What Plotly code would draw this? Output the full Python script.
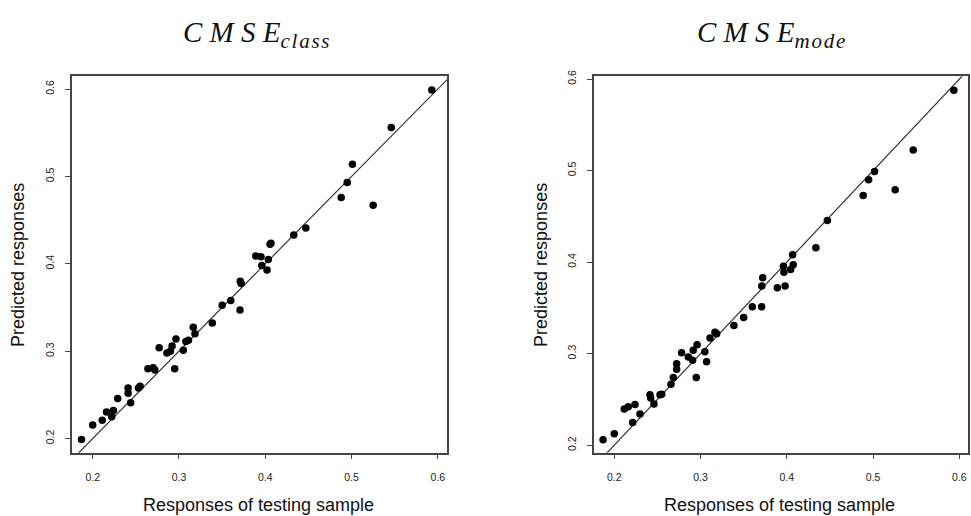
import plotly.graph_objects as go

# ---- data ----
class_x = [0.187, 0.200, 0.211, 0.216, 0.222, 0.224, 0.229, 0.241, 0.241, 0.244, 0.253, 0.255,
           0.264, 0.270, 0.272, 0.277, 0.286, 0.290, 0.292, 0.295, 0.2965, 0.305, 0.308, 0.311,
           0.3165, 0.3185, 0.3386, 0.350, 0.360, 0.371, 0.372, 0.3707, 0.389, 0.395, 0.4035,
           0.396, 0.402, 0.4066, 0.4055, 0.433, 0.447, 0.488, 0.495, 0.501, 0.525, 0.546, 0.593]
class_y = [0.199, 0.2155, 0.221, 0.2305, 0.225, 0.232, 0.246, 0.258, 0.252, 0.241, 0.258, 0.260,
           0.280, 0.281, 0.2785, 0.304, 0.298, 0.300, 0.306, 0.280, 0.314, 0.301, 0.311, 0.3125,
           0.3275, 0.320, 0.3323, 0.3527, 0.358, 0.380, 0.3776, 0.347, 0.409, 0.408, 0.405,
           0.398, 0.393, 0.4236, 0.4225, 0.433, 0.441, 0.476, 0.493, 0.514, 0.467, 0.556, 0.599]

mode_x = [0.187, 0.200, 0.2116, 0.2162, 0.224, 0.2213, 0.2298, 0.2414, 0.2422, 0.246, 0.253, 0.255,
          0.2657, 0.2684, 0.2723, 0.2723, 0.278, 0.2858, 0.2908, 0.2915, 0.296, 0.295, 0.305, 0.307,
          0.311, 0.3167, 0.3187, 0.3387, 0.350, 0.360, 0.3708, 0.372, 0.371, 0.389, 0.398, 0.396,
          0.3966, 0.4044, 0.4074, 0.4067, 0.447, 0.4337, 0.4885, 0.4948, 0.5017, 0.5256, 0.5465, 0.5936]
mode_y = [0.206, 0.2125, 0.2395, 0.242, 0.2443, 0.2248, 0.234, 0.255, 0.2514, 0.245, 0.255, 0.2557,
          0.2665, 0.2738, 0.283, 0.289, 0.301, 0.2964, 0.2929, 0.3037, 0.3097, 0.2738, 0.302, 0.291,
          0.317, 0.3235, 0.3216, 0.3307, 0.3396, 0.3512, 0.3512, 0.383, 0.374, 0.372, 0.374, 0.3955,
          0.389, 0.392, 0.397, 0.408, 0.4455, 0.4156, 0.4728, 0.490, 0.4991, 0.479, 0.5225, 0.5877]

ref_line = [0.0, 1.0]
tick_vals = [0.2, 0.3, 0.4, 0.5, 0.6]
tick_text = ["0.2", "0.3", "0.4", "0.5", "0.6"]
SP = "\u2005"
HS = "\u200a"
def math_title(main, sub):
    return ("<i>" + SP.join(main) + "</i><sub><span style='font-size:21px'><i>"
            + HS.join(sub) + "</i></span></sub>")
titles = [math_title("CMSE", "class"), math_title("CMSE", "mode")]
x_title = "Responses of testing sample"
y_title = "Predicted responses"

fig = go.Figure()

for i, (xs, ys) in enumerate([(class_x, class_y), (mode_x, mode_y)]):
    ax = "x" if i == 0 else "x2"
    ay = "y" if i == 0 else "y2"
    fig.add_trace(go.Scatter(x=ref_line, y=ref_line, mode="lines",
                             line=dict(color="#333333", width=1.2),
                             xaxis=ax, yaxis=ay, showlegend=False, hoverinfo="skip"))
    fig.add_trace(go.Scatter(x=xs, y=ys, mode="markers",
                             marker=dict(color="black", size=7.5),
                             xaxis=ax, yaxis=ay, showlegend=False))

axis_common = dict(showline=True, linecolor="#444444", linewidth=1.5, mirror=True,
                   showgrid=False, zeroline=False, ticks="outside", ticklen=5,
                   tickcolor="#444444", tickwidth=1.2,
                   tickvals=tick_vals, ticktext=tick_text,
                   tickfont=dict(family="Liberation Sans, Arial, sans-serif", size=10.5, color="#222222"))

W, H = 971, 516
def fx(px):
    return px / W
def fy(py):
    return 1 - py / H

fig.update_layout(
    width=W, height=H,
    margin=dict(l=0, r=0, t=0, b=0),
    paper_bgcolor="white", plot_bgcolor="white",
    xaxis=dict(domain=[fx(72), fx(447)], range=[0.1760, 0.6106], anchor="y",
               ticklabelstandoff=9, **axis_common),
    yaxis=dict(domain=[fy(452), fy(71)], range=[0.1838, 0.6147], anchor="x", tickangle=-90,
               ticklabelstandoff=7, **axis_common),
    xaxis2=dict(domain=[fx(594), fx(968)], range=[0.1765, 0.6100], anchor="y2",
                ticklabelstandoff=9, **axis_common),
    yaxis2=dict(domain=[fy(452), fy(71)], range=[0.1917, 0.6032], anchor="x2", tickangle=-90,
                ticklabelstandoff=7, **axis_common),
)

ann = []
label_font = dict(family="Liberation Sans, Arial, sans-serif", size=18, color="#111111")
title_font = dict(family="Liberation Serif, DejaVu Serif, serif", size=29, color="#111111")
for cx, t in [(256, titles[0]), (771, titles[1])]:
    ann.append(dict(text=t, x=fx(cx), y=fy(29), xref="paper", yref="paper",
                    showarrow=False, font=title_font, xanchor="center", yanchor="middle"))
for cx in [258, 779]:
    ann.append(dict(text=x_title, x=fx(cx), y=fy(505), xref="paper", yref="paper",
                    showarrow=False, font=label_font, xanchor="center", yanchor="middle"))
for cx in [18, 541]:
    ann.append(dict(text=y_title, x=fx(cx), y=fy(262), xref="paper", yref="paper",
                    showarrow=False, font=label_font, textangle=-90,
                    xanchor="center", yanchor="middle"))
fig.update_layout(annotations=ann)

fig.write_html("out.html", config={"displayModeBar": False},
               post_script="document.body.style.margin='0';document.body.style.overflow='hidden';")
